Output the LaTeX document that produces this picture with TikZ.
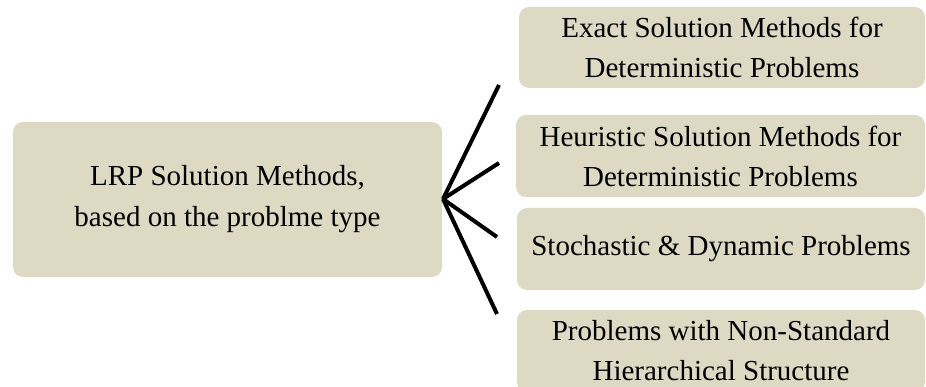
\documentclass[tikz,border=0pt]{standalone}
\usepackage{fontspec}
\setmainfont{Liberation Serif}
\definecolor{tanbg}{HTML}{DDD9C3}
\begin{document}
\begin{tikzpicture}[x=1pt,y=-1pt,
  tanbox/.style={fill=tanbg, draw=none, rounded corners=10pt, inner sep=0pt,
    align=center, font=\fontsize{29}{40}\selectfont},
  spoke/.style={line width=4pt, black}]
\useasboundingbox (0,0) rectangle (926,387);
% main box on the left
\node[tanbox, minimum width=429pt, minimum height=155pt,
      font=\fontsize{29}{41}\selectfont] (main) at (227.5,199.5)
  {LRP Solution Methods,\\based on the problme type};
% the four categories on the right
\node[tanbox, minimum width=406pt, minimum height=81pt] (exact) at (722,47.5)
  {Exact Solution Methods for\\Deterministic Problems};
\node[tanbox, minimum width=409pt, minimum height=82pt] (heur) at (720.5,156)
  {Heuristic Solution Methods for\\Deterministic Problems};
\node[tanbox, minimum width=408pt, minimum height=82pt] (stoch) at (721,249)
  {Stochastic \& Dynamic Problems};
\node[tanbox, minimum width=408pt, minimum height=82pt] (hier) at (721,351)
  {Problems with Non-Standard\\Hierarchical Structure};
% spokes fanning out from the main box
\coordinate (apex) at (443,199);
\coordinate (e1) at (499,85);
\coordinate (e2) at (499,163);
\coordinate (e3) at (497,237);
\coordinate (e4) at (497,314);
\foreach \e in {e1,e2,e3,e4} \draw[spoke] (apex) -- (\e);
\end{tikzpicture}
\end{document}
